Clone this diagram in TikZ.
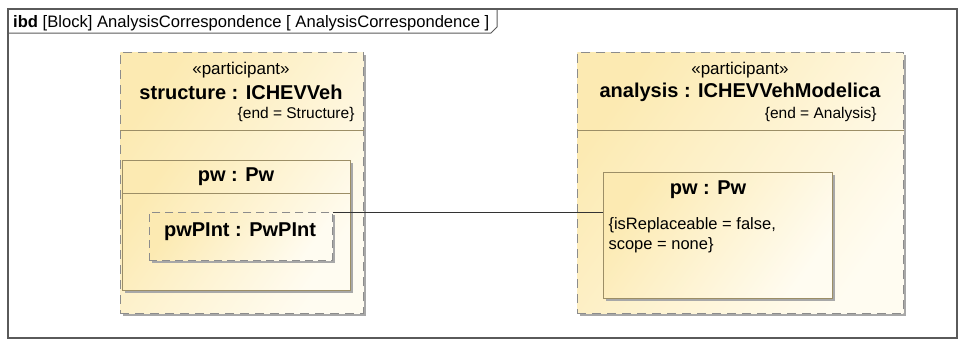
\documentclass[tikz,border=0pt]{standalone}
\usepackage{fontspec}
\setmainfont{Liberation Sans}
\usetikzlibrary{positioning,shadows}
\definecolor{keret}{HTML}{5A5A5A}
\definecolor{szurke}{HTML}{8C8C8C}
\definecolor{olajzold}{HTML}{9C8E66}
\definecolor{sarga}{HTML}{FCEAB2}
\definecolor{sargavil}{HTML}{FFFCF1}
\definecolor{arnyek}{HTML}{A8A8A8}
\newcommand{\betu}[1]{\fontsize{#1}{1.2\dimexpr#1pt\relax}\selectfont}
\tikzset{
  resztvevo/.style={draw=szurke,dash pattern=on 9pt off 6pt,line width=0.8pt,
    top color=sarga,bottom color=sargavil,shading angle=55,
    drop shadow={shadow xshift=3pt,shadow yshift=-3pt,fill=arnyek,opacity=1},
    anchor=north west,inner sep=0pt},
  tag/.style={draw=olajzold,line width=0.8pt,
    top color=sarga,bottom color=sargavil,shading angle=55,
    drop shadow={shadow xshift=3pt,shadow yshift=-3pt,fill=arnyek,opacity=1},
    anchor=north west,inner sep=0pt},
  port/.style={resztvevo,dash pattern=on 8pt off 5pt},
  valaszto/.style={draw=olajzold,line width=0.8pt},
  cim/.style={font=\betu{16.6}},
  nev/.style={font=\bfseries\betu{20}},
  jel/.style={font=\betu{15.5}},
  kapocs/.style={draw=black!80,line width=0.8pt},
}
\begin{document}
\begin{tikzpicture}[x=1pt,y=-1pt]
  \useasboundingbox (0,0) rectangle (966,346);
  % keret
  \draw[keret,line width=1.2pt] (8,9) rectangle (957,338);
  \draw[keret,line width=1pt] (8,33) -- (491,33) -- (497,27) -- (497,9);
  \node[cim,anchor=base west,inner sep=0pt] (fejlec) at (13,27)
    {\textbf{ibd} [Block] AnalysisCorrespondence [ AnalysisCorrespondence ]};
  % structure
  \node[resztvevo,minimum width=243pt,minimum height=261pt] (str) at (120,52) {};
  \node[jel,font=\betu{17}] (strst) at (241,70) {«participant»};
  \node[nev] (strnev) at (241,92) {structure : ICHEVVeh};
  \node[jel,anchor=east] (strend) at (358,114) {\{end = Structure\}};
  \draw[valaszto] (str.west |- 0,130) -- (str.east |- 0,130);
  \node[tag,minimum width=228pt,minimum height=130pt] (pw) at (122,160) {};
  \node[nev] (pwnev) at (236,177) {pw : Pw};
  \draw[valaszto] (pw.west |- 0,193) -- (pw.east |- 0,193);
  \node[port,minimum width=183pt,minimum height=48pt] (pint) at (149,212) {};
  \node[nev] (pintnev) at (240,232) {pwPInt : PwPInt};
  % analysis
  \node[resztvevo,minimum width=326pt,minimum height=261pt] (ana) at (577,52) {};
  \node[jel,font=\betu{17}] (anast) at (740,70) {«participant»};
  \node[nev] (ananev) at (740,92) {analysis : ICHEVVehModelica};
  \node[jel,anchor=east] (anaend) at (880,114) {\{end = Analysis\}};
  \draw[valaszto] (ana.west |- 0,130) -- (ana.east |- 0,130);
  \node[tag,minimum width=229pt,minimum height=126pt] (apw) at (603,172) {};
  \node[nev] (apwnev) at (708,190) {pw : Pw};
  \node[jel,anchor=west,align=left,font=\betu{16.5}] (apwtul) at (605,235)
    {\{isReplaceable = false,\\scope = none\}};
  % kapcsolat
  \draw[kapocs] (pint.north east) -- (pint.north east -| apw.west);
\end{tikzpicture}
\end{document}
